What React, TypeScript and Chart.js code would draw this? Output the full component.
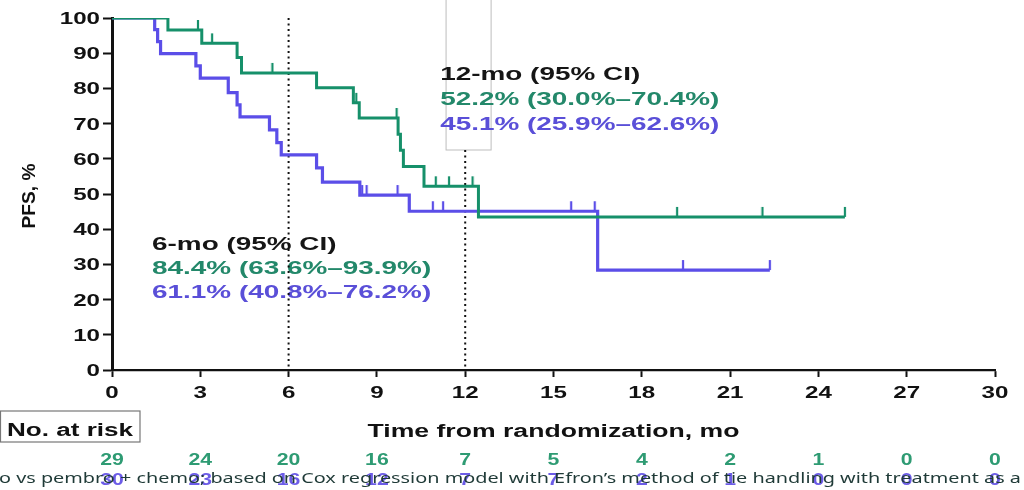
import { useEffect, useRef } from 'react';
import { Chart, registerables } from 'chart.js';

Chart.register(...registerables);

// ---- data ----
const xTickValues = [0, 3, 6, 9, 12, 15, 18, 21, 24, 27, 30];
const yTickValues = [0, 10, 20, 30, 40, 50, 60, 70, 80, 90, 100];

const greenTimes = [0, 1.9, 3.05, 4.25, 4.4, 6.95, 8.2, 8.4, 9.72, 9.8, 9.9, 10.6, 12.45, 24.9];
const greenSurv = [100, 96.6, 92.8, 88.8, 84.4, 80.2, 75.9, 71.6, 67.0, 62.4, 57.8, 52.2, 43.5, 43.5];
const greenCensorTimes = [0.05, 2.92, 3.4, 5.45, 8.3, 9.67, 11.0, 11.45, 12.25, 19.2, 22.1, 24.9];
const greenCensorSurv = [100, 96.6, 92.8, 84.4, 75.9, 71.6, 52.2, 52.2, 52.2, 43.5, 43.5, 43.5];

const blueTimes = [0, 1.45, 1.55, 1.65, 2.85, 3.0, 3.95, 4.25, 4.35, 5.35, 5.6, 5.75, 6.95, 7.15, 8.42, 10.1, 16.5, 22.35];
const blueSurv = [100, 96.7, 93.3, 89.9, 86.4, 82.9, 78.8, 75.3, 71.9, 68.2, 64.6, 61.1, 57.4, 53.4, 49.7, 45.1, 28.4, 28.4];
const blueCensorTimes = [1.0, 8.5, 8.65, 9.7, 10.9, 11.25, 15.6, 16.4, 19.4, 22.35];
const blueCensorSurv = [100, 49.7, 49.7, 49.7, 45.1, 45.1, 45.1, 45.1, 28.4, 28.4];

const riskGreen = [29, 24, 20, 16, 7, 5, 4, 2, 1, 0, 0];
const riskBlue = [30, 23, 16, 12, 7, 7, 2, 1, 0, 0, 0];

const refLineX = [6, 12];
const refLineTop = [100, 62.5];

const sixMoText = ['6-mo (95% CI)', '84.4% (63.6%–93.9%)', '61.1% (40.8%–76.2%)'];
const twelveMoText = ['12-mo (95% CI)', '52.2% (30.0%–70.4%)', '45.1% (25.9%–62.6%)'];
const xTitle = 'Time from randomization, mo';
const yTitle = 'PFS, %';
const riskLabel = 'No. at risk';
const footnote = "o vs pembro + chemo; based on Cox regression model with Efron’s method of tie handling with treatment as a";

// ---- styles ----
const GREEN = '#16906a';
const BLUE = '#5b4ee8';
const GREEN_TXT = '#23886a';
const BLUE_TXT = '#5a4fd8';
const FONT = '"Liberation Sans", Arial, sans-serif';

function makeCensorMark(color: string) {
  const c = document.createElement('canvas');
  c.width = 4;
  c.height = 22;
  const g = c.getContext('2d')!;
  g.strokeStyle = color;
  g.lineWidth = 2.2;
  g.beginPath();
  g.moveTo(2, 1);
  g.lineTo(2, 11);
  g.stroke();
  return c;
}

function drawStretched(ctx: CanvasRenderingContext2D, text: string, x: number, y: number, font: string, color: string, sx: number, align: CanvasTextAlign) {
  ctx.save();
  ctx.font = font;
  ctx.fillStyle = color;
  ctx.textBaseline = 'alphabetic';
  ctx.textAlign = align;
  ctx.translate(x, y);
  ctx.scale(sx, 1);
  ctx.fillText(text, 0, 0);
  ctx.restore();
}

function drawFitted(ctx: CanvasRenderingContext2D, text: string, x: number, y: number, font: string, color: string, width: number, align: CanvasTextAlign) {
  ctx.save();
  ctx.font = font;
  const w = ctx.measureText(text).width;
  ctx.restore();
  drawStretched(ctx, text, x, y, font, color, width / w, align);
}

const textPlugin = {
  id: 'kmText',
  beforeDatasetsDraw(chart: any) {
    const { ctx, scales } = chart;
    const x = scales.x;
    const y = scales.y;
    // faint box around 12-mo region
    ctx.save();
    ctx.strokeStyle = '#bdbdbd';
    ctx.lineWidth = 1;
    const bx0 = x.getPixelForValue(11.35);
    const bx1 = x.getPixelForValue(12.88);
    const by1 = y.getPixelForValue(62.5);
    ctx.strokeRect(bx0, -2, bx1 - bx0, by1 + 2);
    ctx.restore();

    const f = `bold 18px ${FONT}`;
    const colors = ['#151515', GREEN_TXT, BLUE_TXT];
    const sx = 1.55;
    const x6 = x.getPixelForValue(1.36);
    const y6 = y.getPixelForValue(34.1);
    sixMoText.forEach((t, i) => drawStretched(ctx, t, x6, y6 + i * 24, f, colors[i], sx, 'left'));
    const x12 = x.getPixelForValue(11.15);
    const y12 = y.getPixelForValue(82.4);
    twelveMoText.forEach((t, i) => drawStretched(ctx, t, x12, y12 + i * 25, f, colors[i], sx, 'left'));
  },
  afterDraw(chart: any) {
    const { ctx, scales, chartArea } = chart;
    const x = scales.x;
    const y = scales.y;
    const tf = `bold 17px ${FONT}`;
    y.ticks.forEach((t: any) => {
      const py = y.getPixelForValue(t.value);
      drawStretched(ctx, String(t.value), chartArea.left - 12, py + 6, tf, '#111', 1.42, 'right');
    });
    x.ticks.forEach((t: any) => {
      const px = x.getPixelForValue(t.value);
      drawStretched(ctx, String(t.value), px, chartArea.bottom + 28, tf, '#111', 1.42, 'center');
    });
    // axis titles
    drawFitted(ctx, xTitle, (chartArea.left + chartArea.right) / 2, chartArea.bottom + 67, `bold 18px ${FONT}`, '#111', 372, 'center');
    ctx.save();
    ctx.translate(35, (chartArea.top + chartArea.bottom) / 2 + 2);
    ctx.rotate(-Math.PI / 2);
    drawFitted(ctx, yTitle, 0, 0, `bold 18px ${FONT}`, '#111', 65, 'center');
    ctx.restore();

    // at-risk table
    ctx.save();
    ctx.strokeStyle = '#777';
    ctx.lineWidth = 1.2;
    ctx.strokeRect(0.5, 411, 139.5, 31);
    ctx.restore();
    drawFitted(ctx, riskLabel, 7, 436, `bold 18px ${FONT}`, '#111', 126, 'left');
    const rf = `bold 17px ${FONT}`;
    xTickValues.forEach((v, i) => {
      const px = x.getPixelForValue(v);
      drawStretched(ctx, String(riskGreen[i]), px, 465, rf, '#2e9b73', 1.25, 'center');
      drawStretched(ctx, String(riskBlue[i]), px, 485, rf, '#6c5ce7', 1.25, 'center');
    });
    drawFitted(ctx, footnote, -1, 483, `15px "Noto Sans", "Open Sans", sans-serif`, '#1f3a37', 1022, 'left');
  },
};

export default function App() {
  const ref = useRef<HTMLCanvasElement>(null);
  useEffect(() => {
    const canvas = ref.current;
    if (!canvas) return;
    const greenMark = makeCensorMark(GREEN);
    const blueMark = makeCensorMark(BLUE);
    const chart = new Chart(canvas, {
      type: 'line',
      data: {
        datasets: [
          {
            type: 'scatter',
            data: greenCensorTimes.map((t, i) => ({ x: t, y: greenCensorSurv[i] })),
            pointStyle: greenMark as any,
            pointRadius: 5,
            showLine: false,
            order: 0,
          },
          {
            type: 'scatter',
            data: blueCensorTimes.map((t, i) => ({ x: t, y: blueCensorSurv[i] })),
            pointStyle: blueMark as any,
            pointRadius: 5,
            showLine: false,
            order: 0,
          },
          {
            type: 'line',
            data: greenTimes.map((t, i) => ({ x: t, y: greenSurv[i] })),
            stepped: true,
            borderColor: GREEN,
            borderWidth: 3,
            pointRadius: 0,
            fill: false,
            order: 1,
          },
          {
            type: 'line',
            data: blueTimes.map((t, i) => ({ x: t, y: blueSurv[i] })),
            stepped: true,
            borderColor: BLUE,
            borderWidth: 3.2,
            pointRadius: 0,
            fill: false,
            order: 2,
          },
          ...refLineX.map((lx, i) => ({
            type: 'line' as const,
            data: [{ x: lx, y: refLineTop[i] }, { x: lx, y: 0 }],
            borderColor: '#111',
            borderWidth: 2,
            borderDash: [2, 3.5],
            pointRadius: 0,
            fill: false,
            order: 3,
          })),
        ],
      },
      options: {
        animation: false,
        responsive: true,
        maintainAspectRatio: false,
        devicePixelRatio: 1,
        layout: { padding: { top: 18, right: 29, left: 0, bottom: 0 } },
        plugins: { legend: { display: false }, tooltip: { enabled: false } },
        scales: {
          x: {
            type: 'linear',
            min: 0,
            max: 30,
            afterBuildTicks: (s: any) => { s.ticks = xTickValues.map((v) => ({ value: v })); },
            afterFit: (s: any) => { s.height = 120; },
            ticks: { display: false },
            grid: { display: true, drawOnChartArea: false, drawTicks: true, tickLength: 7, tickColor: '#111', tickWidth: 2 },
            border: { display: true, color: '#111', width: 2.2 },
          },
          y: {
            type: 'linear',
            min: 0,
            max: 100,
            afterBuildTicks: (s: any) => { s.ticks = yTickValues.map((v) => ({ value: v })); },
            afterFit: (s: any) => { s.width = 112; },
            ticks: { display: false },
            grid: { display: true, drawOnChartArea: false, drawTicks: true, tickLength: 9, tickColor: '#111', tickWidth: 2 },
            border: { display: true, color: '#111', width: 3 },
          },
        },
      },
      plugins: [textPlugin],
    } as any);
    return () => chart.destroy();
  }, []);
  return (
    <div style={{ position: 'absolute', left: 0, top: 0, width: 1024, height: 490, background: '#fff' }}>
      <canvas ref={ref} />
    </div>
  );
}
